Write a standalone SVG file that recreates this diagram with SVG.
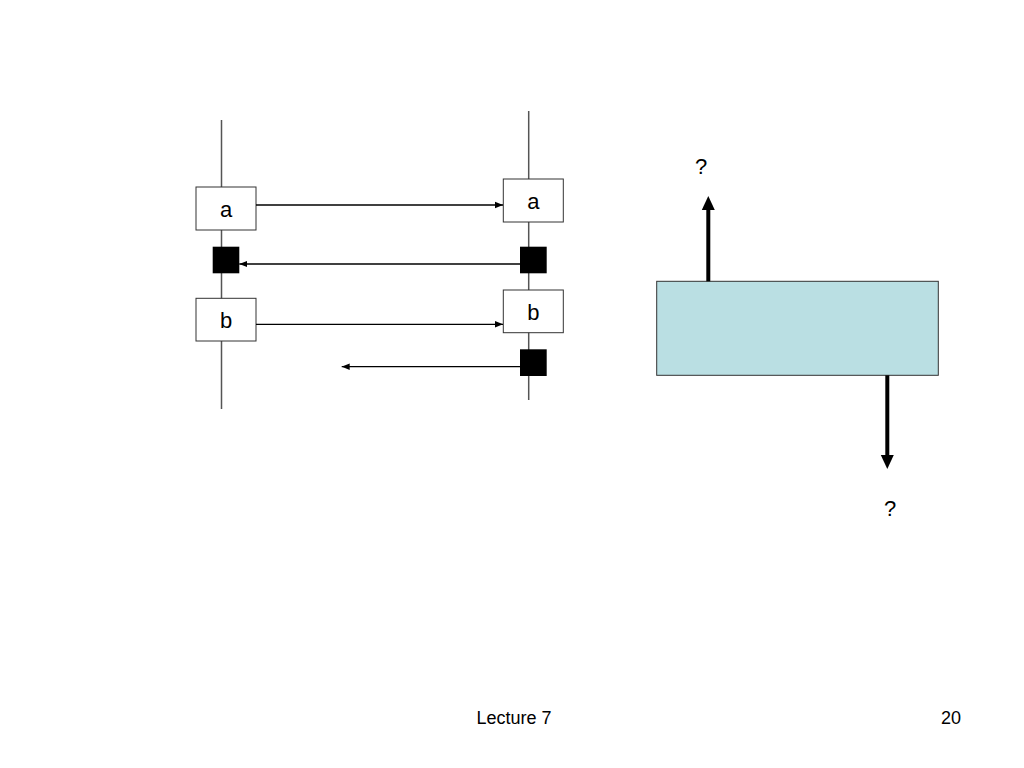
<svg xmlns="http://www.w3.org/2000/svg" width="1024" height="768" viewBox="0 0 1024 768">
<style>
.life{stroke:#555;stroke-width:1.5;fill:none}
.box{fill:#fff;stroke:#333;stroke-width:1}
.sq{fill:#000}
.msg{stroke:#000;stroke-width:1.3;fill:none}
.thick{stroke:#000;stroke-width:4;fill:none}
.head{fill:#000}
.lbl{font-family:"Liberation Sans",Arial,sans-serif;font-size:22px;fill:#000;text-anchor:middle}
.foot{font-family:"Liberation Sans",Arial,sans-serif;font-size:18px;fill:#000;text-anchor:middle}
</style>
<defs>
<marker id="ah" markerWidth="8" markerHeight="8" viewBox="0 0 8 8" refX="8" refY="4" orient="auto" markerUnits="userSpaceOnUse">
<path d="M0,0.8 L8,4 L0,7.2 Z" fill="#000"/>
</marker>
</defs>
<rect width="1024" height="768" fill="#fff"/>
<g id="lifelines">
<line class="life" x1="221.5" y1="120" x2="221.5" y2="409"/>
<line class="life" x1="528.7" y1="111" x2="528.7" y2="400"/>
</g>
<g id="node-left-a"><rect class="box" x="196" y="187" width="60" height="43"/><text class="lbl" x="226" y="217">a</text></g>
<g id="node-right-a"><rect class="box" x="503.3" y="179" width="60" height="43"/><text class="lbl" x="533.3" y="209">a</text></g>
<g id="node-left-sq1"><rect class="sq" x="212.7" y="246.7" width="26.6" height="26.6"/></g>
<g id="node-right-sq1"><rect class="sq" x="520" y="246.7" width="26.7" height="26.6"/></g>
<g id="node-left-b"><rect class="box" x="196" y="298.3" width="60" height="42.7"/><text class="lbl" x="226" y="328">b</text></g>
<g id="node-right-b"><rect class="box" x="503.3" y="290" width="60" height="42.7"/><text class="lbl" x="533.3" y="320">b</text></g>
<g id="node-right-sq2"><rect class="sq" x="520" y="349.3" width="26.7" height="26.7"/></g>
<g id="node-block"><rect x="656.7" y="281.3" width="281.6" height="94" fill="#BADFE3" stroke="#333" stroke-width="1"/></g>
<g id="connectors">
<line class="msg" x1="256" y1="205" x2="503" y2="205" marker-end="url(#ah)"/>
<line class="msg" x1="520" y1="264" x2="239.3" y2="264" marker-end="url(#ah)"/>
<line class="msg" x1="256" y1="324.3" x2="503" y2="324.3" marker-end="url(#ah)"/>
<line class="msg" x1="520" y1="366.7" x2="341.7" y2="366.7" marker-end="url(#ah)"/>
<line class="thick" x1="708.3" y1="281.3" x2="708.3" y2="206"/>
<polygon class="head" points="708.3,196 714.8,210 701.8,210"/>
<line class="thick" x1="887.3" y1="375.3" x2="887.3" y2="458"/>
<polygon class="head" points="887.3,469 893.8,455 880.8,455"/>
</g>
<g id="labels">
<text class="lbl" x="701" y="174">?</text>
<text class="lbl" x="890" y="516">?</text>
</g>
<g id="footer">
<text class="foot" x="514" y="724">Lecture 7</text>
<text class="foot" x="951" y="724">20</text>
</g>
</svg>
